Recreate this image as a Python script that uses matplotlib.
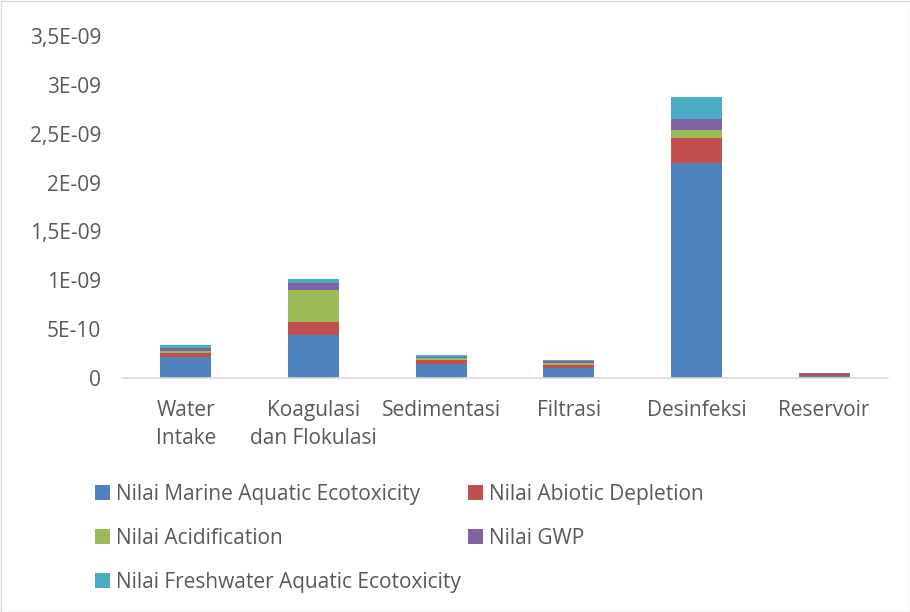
import matplotlib
matplotlib.use("Agg")
import matplotlib.pyplot as plt
import numpy as np
from matplotlib.patches import Rectangle

plt.rcParams['font.family'] = ['Open Sans', 'DejaVu Sans']

categories = ["Water\nIntake", "Koagulasi\ndan Flokulasi", "Sedimentasi", "Filtrasi", "Desinfeksi", "Reservoir"]
series_names = ["Nilai Marine Aquatic Ecotoxicity", "Nilai Abiotic Depletion", "Nilai Acidification",
                "Nilai GWP", "Nilai Freshwater Aquatic Ecotoxicity"]
marine = [2.10e-10, 4.40e-10, 1.45e-10, 1.02e-10, 2.20e-09, 0.25e-10]
abiotic = [0.48e-10, 1.33e-10, 0.38e-10, 0.30e-10, 2.56e-10, 0.12e-10]
acidification = [0.20e-10, 3.30e-10, 0.20e-10, 0.17e-10, 0.79e-10, 0.05e-10]
gwp = [0.34e-10, 0.65e-10, 0.17e-10, 0.20e-10, 1.20e-10, 0.05e-10]
freshwater = [0.27e-10, 0.48e-10, 0.17e-10, 0.17e-10, 2.18e-10, 0.03e-10]
yticks = [0, 5e-10, 1e-09, 1.5e-09, 2e-09, 2.5e-09, 3e-09, 3.5e-09]
ytick_labels = ["0", "5E-10", "1E-09", "1,5E-09", "2E-09", "2,5E-09", "3E-09", "3,5E-09"]

colors = ["#4F81BD", "#C0504D", "#9BBB59", "#8064A2", "#4BACC6"]
series = [marine, abiotic, acidification, gwp, freshwater]

fig = plt.figure(figsize=(9.10, 6.12), dpi=100)
ax = fig.add_axes([122/910, 1 - 378/612, (888-122)/910, (378-36)/612])

x = np.arange(len(categories))
bottom = np.zeros(len(categories))
handles = []
for vals, col, name in zip(series, colors, series_names):
    h = ax.bar(x, vals, width=0.4, bottom=bottom, color=col, label=name, edgecolor='none')
    handles.append(h)
    bottom += np.array(vals)

ax.set_xlim(-0.5, len(categories) - 0.5)
ax.set_ylim(0, 3.5e-09)
ax.set_yticks(yticks)
ax.set_yticklabels(ytick_labels, fontsize=15, color="#595959")
ax.set_xticks(x)
ax.set_xticklabels(categories, fontsize=15, color="#595959", linespacing=1.4)
ax.tick_params(axis='y', length=0, pad=15)
ax.tick_params(axis='x', length=0, pad=16)
for s in ['top', 'right', 'left']:
    ax.spines[s].set_visible(False)
ax.spines['bottom'].set_color('#D9D9D9')
ax.spines['bottom'].set_linewidth(1.2)

# legend fills column-wise, so order entries to read row by row
order = [0, 2, 4, 1, 3]
leg = fig.legend(handles=[handles[i] for i in order], labels=[series_names[i] for i in order],
                 ncol=2, loc='upper left',
                 bbox_to_anchor=(76/910, 1 - 465/612), frameon=False, fontsize=15,
                 handlelength=0.75, handleheight=0.75, handletextpad=0.25,
                 labelspacing=1.1, columnspacing=0.35, labelcolor="#595959")

fig.patches.append(Rectangle((0.5/910, 0.5/612), 1 - 1/910, 1 - 1/612, transform=fig.transFigure,
                             fill=False, edgecolor='#D9D9D9', linewidth=1))

fig.savefig("out.png", dpi=100, facecolor='white')
